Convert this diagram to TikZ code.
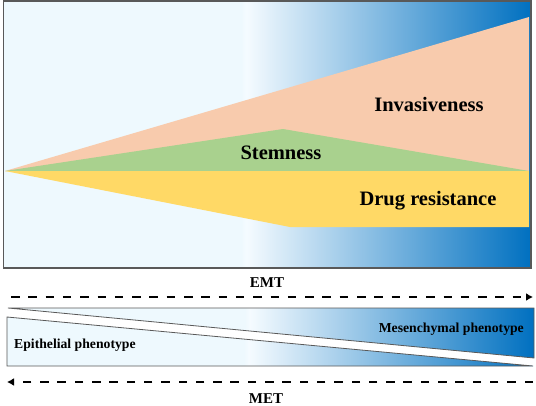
\documentclass[tikz,border=0pt]{standalone}
\usepackage{fontspec}
\setmainfont{Liberation Serif}
\usetikzlibrary{arrows.meta}

\definecolor{paleblue}{HTML}{EEF9FE}
\definecolor{whiteblue}{HTML}{F5FBFF}
\definecolor{deepblue}{HTML}{0070C0}
\definecolor{peach}{HTML}{F8CBAD}
\definecolor{leafgreen}{HTML}{A9D18E}
\definecolor{gold}{HTML}{FFD966}
\definecolor{frame}{HTML}{595959}
\pgfdeclarehorizontalshading{emtfade}{100bp}{color(0bp)=(paleblue); color(47.5bp)=(paleblue); color(48bp)=(whiteblue); color(75bp)=(deepblue); color(100bp)=(deepblue)}

\begin{document}
\begin{tikzpicture}[x=1pt,y=-1pt,
    bigtext/.style={font=\fontsize{20.5}{24}\selectfont\bfseries,inner sep=0pt,anchor=base},
    smalltext/.style={font=\fontsize{13.7}{16}\selectfont\bfseries,inner sep=0pt},
    steptext/.style={font=\fontsize{15}{18}\selectfont\bfseries,inner sep=0pt,anchor=base},
    flow/.style={line width=2.6pt,dash pattern=on 8.5pt off 8.8pt,-{Latex[length=7pt,width=8pt]}}]
  \useasboundingbox (0,0) rectangle (536,405);
  % upper panel
  \shade[shading=emtfade] (3.5,1) rectangle (531,268);
  \begin{scope}
    \fill[peach] (5,171) -- (529,17) -- (529,171) -- cycle;
    \fill[leafgreen] (5,171) -- (283,129) -- (529,171) -- cycle;
    \fill[gold] (5,171) -- (529,171) -- (529,227) -- (290,227) -- cycle;
  \end{scope}
  \draw[frame,line width=1.5pt] (3.5,1) rectangle (531,268);
  \node[bigtext] (inv) at (429,111) {Invasiveness};
  \node[bigtext] (stem) at (281,159) {Stemness};
  \node[bigtext] (drug) at (428,205) {Drug resistance};
  % lower panel
  \node[steptext] (emt) at (267,287) {EMT};
  \coordinate (emtL) at (11,297);
  \coordinate (emtR) at (533,297);
  \draw[flow] (emtL) -- (emtR);
  \shadedraw[shading=emtfade,draw=frame,line width=0.8pt]
    (8,308) -- (534,308) -- (534,358) -- cycle;
  \shadedraw[shading=emtfade,draw=frame,line width=0.8pt]
    (7,317) -- (7,366) -- (533,366) -- cycle;
  \node[smalltext,anchor=base west] (epi) at (14,348) {Epithelial phenotype};
  \node[smalltext,anchor=base east] (mes) at (524,332) {Mesenchymal phenotype};
  \coordinate (metR) at (533,382);
  \coordinate (metL) at (7,382);
  \draw[flow] (metR) -- (metL);
  \node[steptext] (met) at (266,403) {MET};
\end{tikzpicture}
\end{document}
